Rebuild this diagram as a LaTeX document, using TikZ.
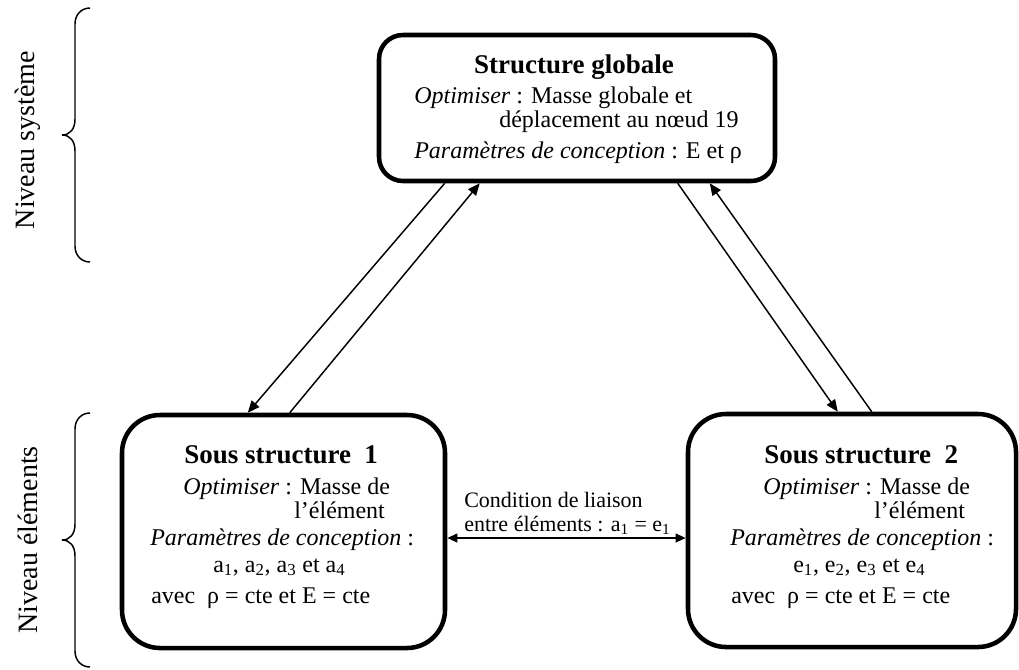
\documentclass[tikz,border=0pt]{standalone}
\usepackage{fontspec}
\setmainfont{Liberation Serif}
\usetikzlibrary{arrows.meta,calc}

\tikzset{
  boite/.style={draw, line width=3.4pt, inner sep=0pt},
  txt/.style={inner sep=0.75pt, font=\fontsize{18}{21}\selectfont},
  titre/.style={inner sep=0.75pt, font=\fontsize{20.25}{24}\selectfont\bfseries},
  petit/.style={inner sep=0.75pt, font=\fontsize{16.5}{19}\selectfont},
  niveau/.style={inner sep=0.75pt, rotate=90, font=\fontsize{21}{24}\selectfont},
  fleche/.style={line width=1.1pt, -{Triangle[length=9pt,width=7.5pt]}},
  fleche2/.style={line width=1.4pt, {Triangle[length=7.5pt,width=6.5pt]}-{Triangle[length=7.5pt,width=6.5pt]}},
}

\begin{document}
\begin{tikzpicture}[x=0.75pt,y=0.75pt,yscale=-1,xscale=1]
\useasboundingbox (0,0) rectangle (1019,669);
%Boites
\node [boite, rounded corners=18pt, minimum width=297pt, minimum height=109.5pt] (glob) at (577,108) {};
\node [boite, rounded corners=28.5pt, minimum width=242.25pt, minimum height=174.75pt] (sous1) at (283.5,531.5) {};
\node [boite, rounded corners=28.5pt, minimum width=246pt, minimum height=174.75pt] (sous2) at (852,530.5) {};
%Structure globale
\draw (574,73) node [anchor=base][titre] (globT) {Structure globale};
\draw (413,103) node [anchor=base west][txt] (glob1) {\textit{Optimiser} : Masse globale et};
\draw (498,127) node [anchor=base west][txt] (glob2) {déplacement au nœud 19};
\draw (413,158) node [anchor=base west][txt] (glob3) {\textit{Paramètres de conception} : E et ρ};
%Sous structure 1
\draw (183,463) node [anchor=base west][titre] (sous1T) {Sous structure \ 1};
\draw (182,494) node [anchor=base west][txt] (sous1a) {\textit{Optimiser} : Masse de};
\draw (293,518) node [anchor=base west][txt] (sous1b) {l’élément};
\draw (149,545) node [anchor=base west][txt] (sous1c) {\textit{Paramètres de conception} :};
\draw (212,572) node [anchor=base west][txt] (sous1d) {a\textsubscript{1}, a\textsubscript{2}, a\textsubscript{3} et a\textsubscript{4}};
\draw (150,603) node [anchor=base west][txt] (sous1e) {avec \ ρ = cte et E = cte};
%Sous structure 2
\draw (763,463) node [anchor=base west][titre] (sous2T) {Sous structure \ 2};
\draw (762,494) node [anchor=base west][txt] (sous2a) {\textit{Optimiser} : Masse de};
\draw (873,518) node [anchor=base west][txt] (sous2b) {l’élément};
\draw (729,545) node [anchor=base west][txt] (sous2c) {\textit{Paramètres de conception} :};
\draw (792,572) node [anchor=base west][txt] (sous2d) {e\textsubscript{1}, e\textsubscript{2}, e\textsubscript{3} et e\textsubscript{4}};
\draw (730,603) node [anchor=base west][txt] (sous2e) {avec \ ρ = cte et E = cte};
%Liaison
\draw (463,507) node [anchor=base west][petit] (cond1) {Condition de liaison};
\draw (463,531) node [anchor=base west][petit] (cond2) {entre éléments : a\textsubscript{1} = e\textsubscript{1}};
\coordinate (liaisonG) at ($(sous1.east)+(0,6.5)$);
\draw [fleche2] (liaisonG) -- (liaisonG -| sous2.west);
%Echanges
\draw [fleche] ($(glob.south west)+(68,0)$) -- ($(sous1.north west)+(128,0)$);
\draw [fleche] ($(sous1.north west)+(170,0)$) -- ($(glob.south west)+(103,0)$);
\draw [fleche] ($(glob.south west)+(301,0)$) -- ($(sous2.north west)+(152,0)$);
\draw [fleche] ($(sous2.north west)+(186,0)$) -- ($(glob.south west)+(333,0)$);
%Niveaux
\draw [line width=1.1pt] (90,8) .. controls (82,8) and (75,14) .. (75,24) -- (75,119) .. controls (75,129) and (70,135) .. (62,135) .. controls (70,135) and (75,141) .. (75,151) -- (75,246) .. controls (75,256) and (82,262) .. (90,262) ;
\draw [line width=1.1pt] (90,413) .. controls (82,413) and (75,419) .. (75,429) -- (75,524) .. controls (75,534) and (70,540) .. (62,540) .. controls (70,540) and (75,546) .. (75,556) -- (75,651) .. controls (75,661) and (82,667) .. (90,667) ;
\draw (28,140) node [niveau] (nivSys) {Niveau système};
\draw (28,540) node [niveau] (nivElt) {Niveau éléments};
\end{tikzpicture}
\end{document}
